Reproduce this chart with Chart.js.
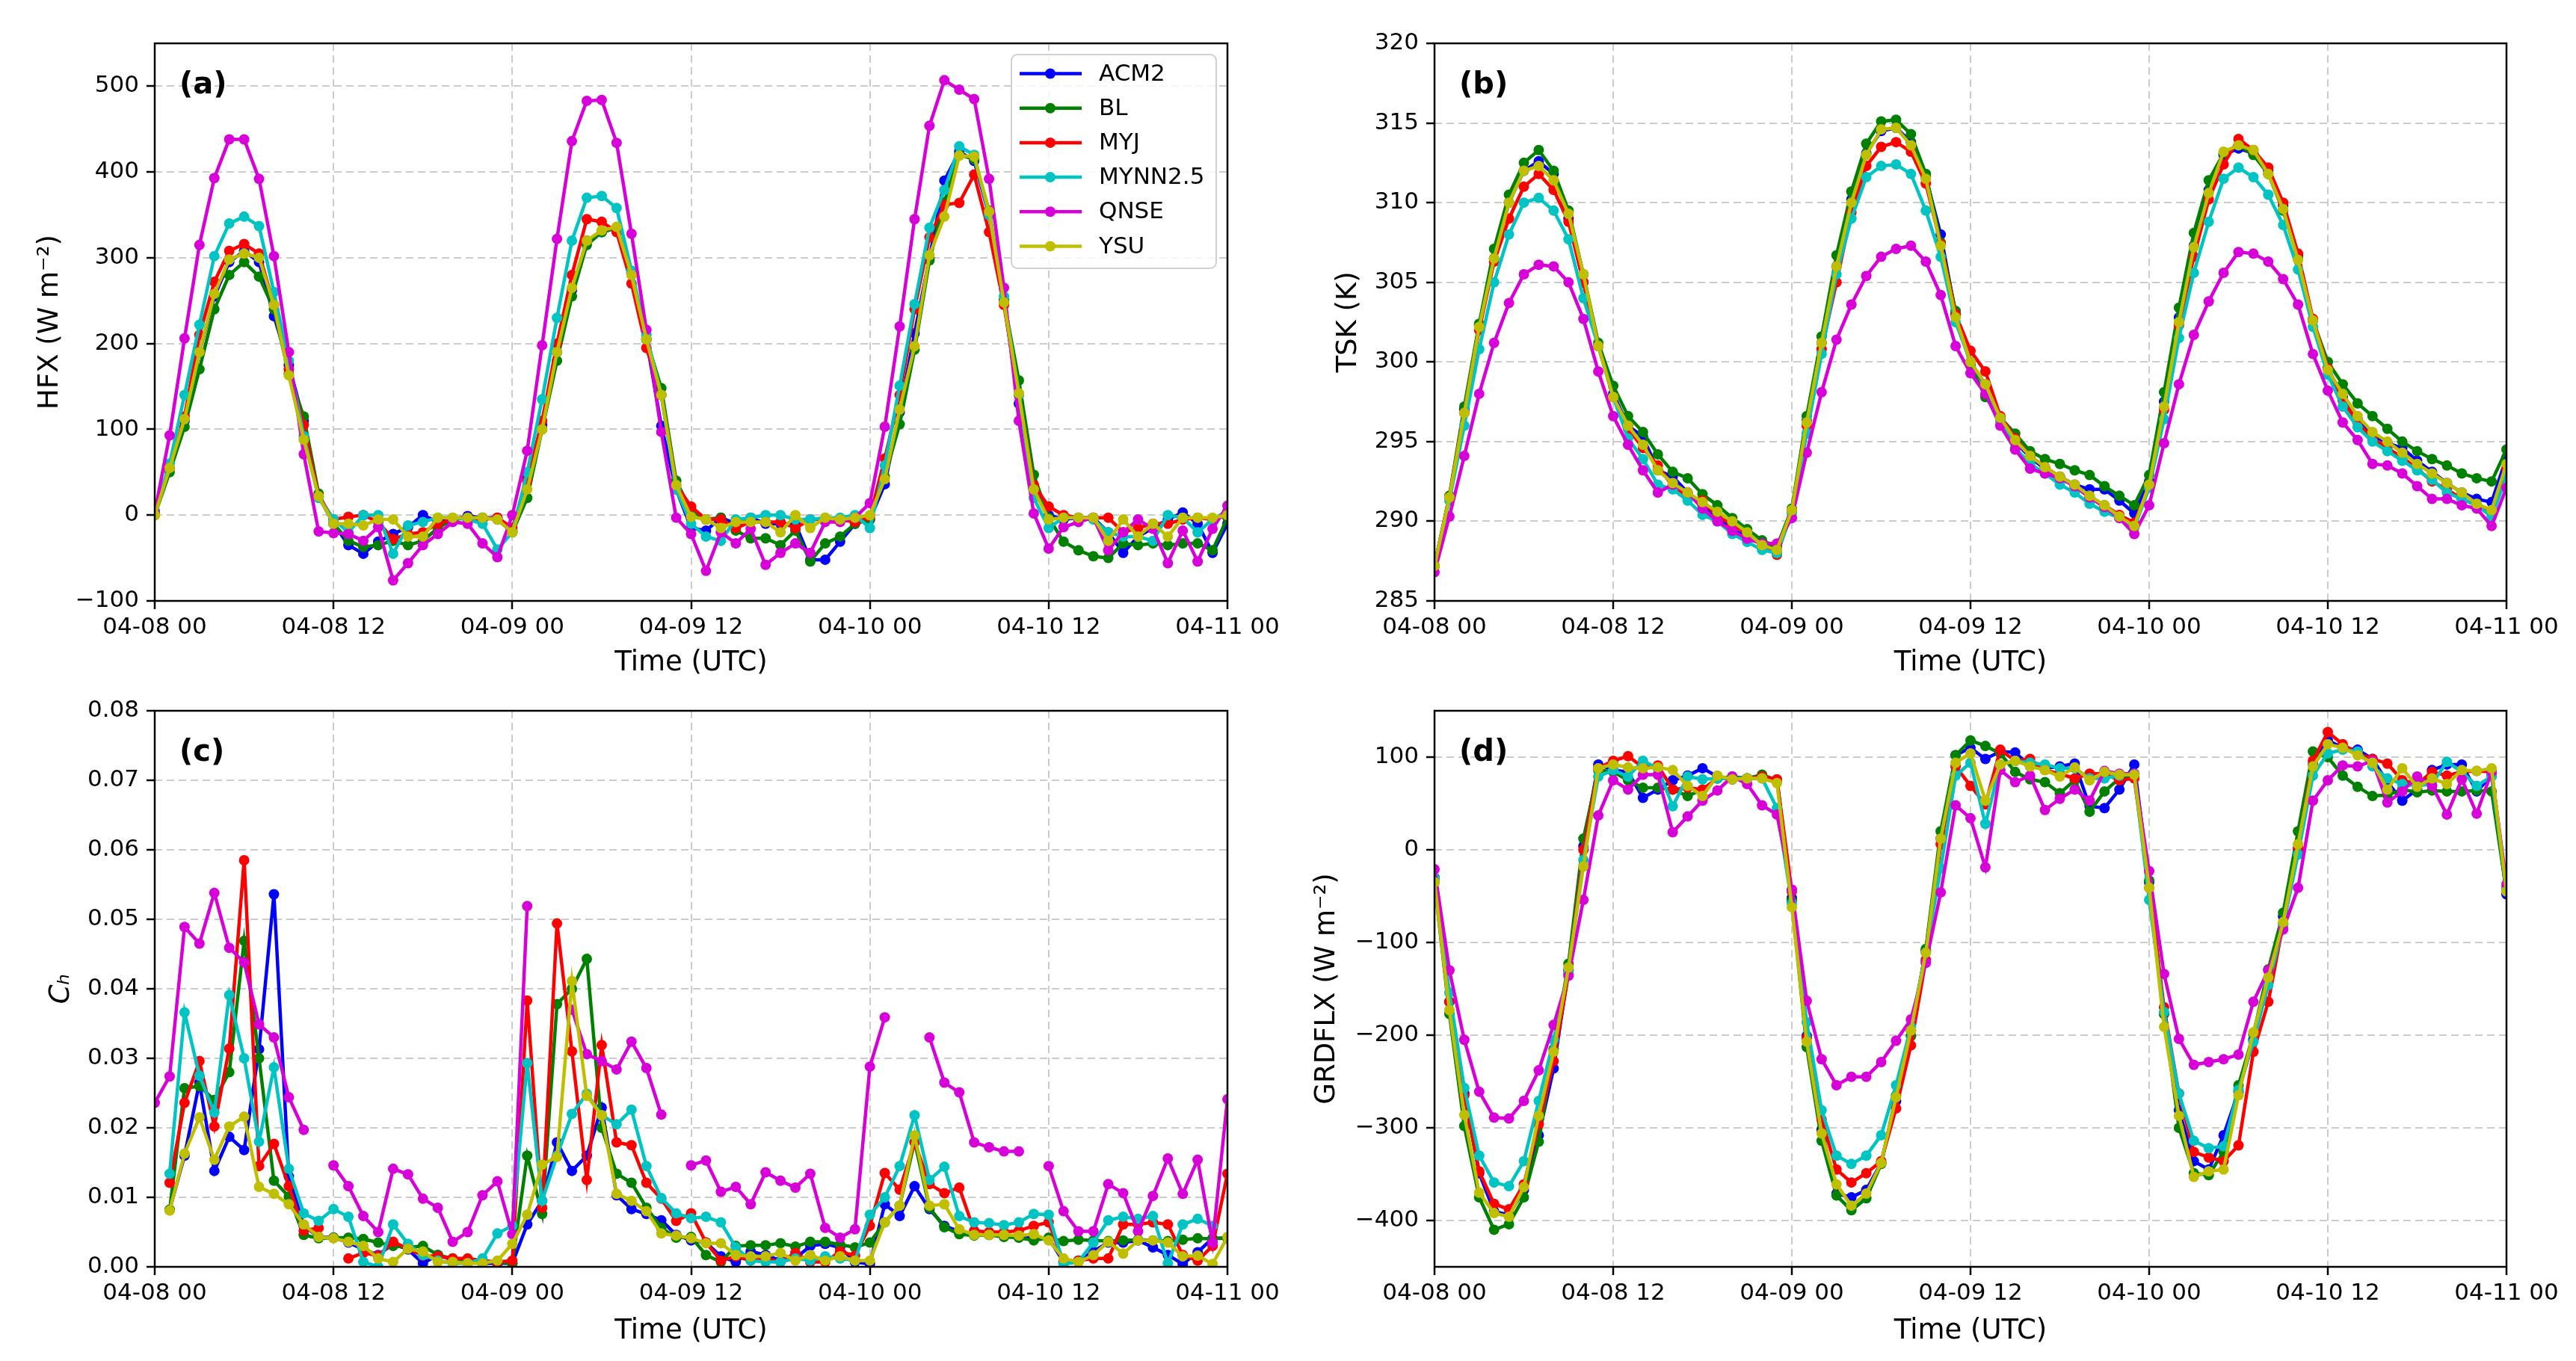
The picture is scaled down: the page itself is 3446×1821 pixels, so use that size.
<!DOCTYPE html>
<html>
<head>
<meta charset="utf-8">
<title>PBL schemes comparison</title>
<script src="https://cdn.jsdelivr.net/npm/chart.js@4.4.1/dist/chart.umd.min.js"></script>
<style>
  body { margin: 0; background: #fff; width: 3446px; height: 1821px; overflow: hidden; position: relative; }
  canvas { position: absolute; }
</style>
</head>
<body>
<canvas id="panelA" width="1723" height="910" style="left:0;top:0"></canvas>
<canvas id="panelB" width="1723" height="910" style="left:1723px;top:0"></canvas>
<canvas id="panelC" width="1723" height="911" style="left:0;top:910px"></canvas>
<canvas id="panelD" width="1723" height="911" style="left:1723px;top:910px"></canvas>
<script>
// hours since 04-08 00 UTC, one value per hour
const HOURS = Array.from({ length: 73 }, (_, i) => i);
const TIME_TICKS = [0, 12, 24, 36, 48, 60, 72];
const TIME_LABELS = ['04-08 00', '04-08 12', '04-09 00', '04-09 12', '04-10 00', '04-10 12', '04-11 00'];
const SCHEMES = ['ACM2', 'BL', 'MYJ', 'MYNN2.5', 'QNSE', 'YSU'];

const HFX_TICKS = [-100, 0, 100, 200, 300, 400, 500];
const TSK_TICKS = [285, 290, 295, 300, 305, 310, 315, 320];
const CH_TICKS = [0, 0.01, 0.02, 0.03, 0.04, 0.05, 0.06, 0.07, 0.08];
const GRD_TICKS = [-400, -300, -200, -100, 0, 100];

// (a) sensible heat flux HFX
const HFX_ACM2 = [3, 55, 110, 190, 255, 295, 308, 295, 232, 175, 110, 22, -10, -35, -45, -31, -22, -14, 0, -8, -5, -1, -3, -3, -18,
  45, 105, 190, 262, 320, 330, 335, 282, 205, 104, 30, -15, -18, -3, -10, -3, -10, -10, -10, -52, -52, -31, -10, -5,
  36, 120, 212, 300, 390, 424, 413, 350, 250, 130, 30, 0, -5, -3, -3, -20, -44, -25, -15, -5, 3, -10, -44, -10];
const HFX_BL = [0, 50, 103, 170, 240, 280, 295, 278, 240, 165, 115, 25, -10, -30, -37, -35, -30, -35, -30, -15, -5, -3, -3, -5, -20,
  20, 100, 180, 255, 315, 330, 335, 282, 205, 148, 40, 5, -5, -3, -18, -27, -27, -35, -18, -54, -33, -25, -10, -5,
  45, 106, 193, 297, 365, 420, 415, 355, 250, 157, 47, -3, -31, -41, -48, -50, -33, -35, -33, -35, -33, -33, -41, -3];
const HFX_MYJ = [3, 55, 115, 210, 272, 308, 316, 305, 245, 170, 105, 22, -5, -2, 0, -8, -28, -22, -20, -10, -5, -3, -5, -3, -15,
  40, 110, 200, 280, 345, 342, 330, 270, 195, 140, 35, 10, -5, -5, -15, -8, -8, -8, -15, -5, -5, -5, -8, -2,
  66, 140, 240, 324, 362, 364, 397, 330, 245, 140, 35, 10, 0, -3, -3, -3, -20, -15, -10, -10, -5, -3, -5, 0];
const HFX_MYNN = [5, 60, 140, 222, 302, 340, 348, 337, 260, 180, 92, 20, -5, -20, 0, 0, -45, -12, -8, -3, -3, -5, -10, -40, -20,
  50, 135, 230, 320, 370, 372, 358, 285, 210, 140, 30, -10, -25, -30, -5, -3, 0, 0, -5, -5, -3, -3, 0, -15,
  58, 151, 246, 335, 379, 430, 420, 350, 255, 140, 20, -15, -3, -3, -5, -20, -25, -25, -30, 0, -3, -20, -5, 5];
const HFX_QNSE = [3, 93, 206, 315, 393, 438, 438, 392, 302, 190, 71, -19, -21, -22, -30, -14, -76, -56, -35, -22, -8, -10, -33, -49, 0,
  75, 198, 322, 436, 483, 484, 434, 328, 216, 97, -3, -22, -65, -20, -33, -16, -58, -44, -33, -44, -8, -8, -3, 14,
  103, 220, 345, 454, 507, 496, 485, 392, 265, 110, 2, -39, -14, -8, -3, -41, -20, -5, -16, -56, -18, -54, -16, 11];
const HFX_YSU = [0, 55, 112, 190, 258, 298, 305, 300, 245, 163, 88, 22, -10, -10, -12, -5, -5, -25, -25, -3, -3, -3, -3, -5, -20,
  30, 100, 190, 265, 320, 332, 336, 280, 205, 140, 35, -2, -5, -15, -8, -8, -8, -20, 0, -15, -3, -5, -3, 0,
  42, 123, 197, 303, 348, 419, 418, 354, 248, 142, 30, -5, -3, -3, -3, -30, -5, -25, -10, -25, -3, -3, -3, 0];

// (b) skin temperature TSK
const TSK_ACM2 = [287.2, 291.5, 297, 302.3, 306.5, 310, 312, 312.6, 311.8, 309, 305, 301, 298, 296, 295.3, 293.2, 292.8, 291.8, 291, 290.3, 289.5, 289, 288.7, 288.2, 290.7,
  296.3, 301.2, 306, 310.2, 313.1, 314.5, 314.7, 313.8, 311.6, 308, 303, 300, 298.5, 296.5, 295, 294, 293.3, 292.8, 292.3, 292, 292, 291.3, 290.5, 292.5,
  297.5, 302.8, 307.3, 310.8, 313, 313.4, 313.1, 312, 309.8, 306.7, 302.6, 299.6, 297.8, 296.4, 295.4, 294.9, 294.6, 293.8, 293.1, 292.4, 291.8, 291.4, 291.2, 294];
const TSK_BL = [287.2, 291.6, 297.2, 302.4, 307.1, 310.5, 312.5, 313.3, 312, 309.5, 305.5, 301.2, 298.5, 296.6, 295.6, 294.2, 293.1, 292.7, 291.7, 291, 290.2, 289.5, 288.8, 288.4, 290.8,
  296.6, 301.6, 306.7, 310.7, 313.7, 315.1, 315.2, 314.3, 311.8, 307.5, 303.2, 299.8, 297.8, 296.5, 295.5, 294.4, 293.9, 293.6, 293.2, 292.9, 292.2, 291.6, 291, 292.9,
  298.1, 303.4, 308.1, 311.4, 313.1, 313.6, 313, 311.8, 309.5, 306.5, 302.6, 300, 298.6, 297.4, 296.6, 295.8, 295, 294.4, 293.9, 293.5, 293, 292.7, 292.5, 294.5];
const TSK_MYJ = [287.2, 291.5, 296.8, 302, 306.3, 309, 311, 311.8, 310.8, 308.8, 305, 301, 297.8, 295.8, 294.6, 293.5, 292.2, 291.6, 291.3, 290.3, 289.8, 289.2, 288.5, 287.9, 290.6,
  296, 300.8, 305, 309.4, 312.3, 313.5, 313.8, 313.2, 311.2, 307.4, 303, 300.7, 299.4, 296.6, 295.2, 294.1, 293.4, 292.8, 292.2, 291.5, 291, 290.4, 289.9, 292.2,
  297, 302.3, 306.6, 310.2, 312.4, 314, 313.3, 312.2, 310, 306.8, 302.7, 299.6, 297.6, 296.2, 295.2, 294.6, 294, 293.3, 292.5, 292, 291.4, 291, 290.6, 293.3];
const TSK_MYNN = [287.2, 291.3, 296, 300.8, 305, 308, 310, 310.3, 309.5, 307.7, 304, 301, 297.8, 295.2, 293.9, 292.3, 292, 291.3, 290.4, 290, 289.2, 288.7, 288.2, 288, 290.5,
  295.5, 300.5, 305.5, 309, 311.6, 312.3, 312.4, 311.8, 309.5, 306.6, 302.5, 300, 298.6, 296.3, 294.6, 293.6, 293, 292.3, 291.8, 291.1, 290.6, 290.2, 289.6, 292.1,
  296.4, 301.5, 305.6, 308.8, 311.5, 312.2, 311.6, 310.5, 308.6, 305.8, 302.2, 299.2, 297.2, 295.9, 295, 294.4, 293.8, 293.2, 292.6, 291.8, 291.4, 291, 290.3, 292.8];
const TSK_QNSE = [286.8, 290.3, 294.1, 298, 301.2, 303.7, 305.5, 306.1, 306, 305, 302.7, 299.4, 296.6, 294.8, 293.2, 291.8, 292.3, 291.8, 290.8, 290, 289.4, 288.9, 288.6, 288.6, 290.2,
  294.3, 298.1, 301.4, 303.6, 305.4, 306.6, 307.1, 307.3, 306.3, 304.2, 301, 299.3, 298, 296, 294.5, 293.3, 293, 292.7, 292.2, 291.5, 290.9, 290.2, 289.2, 291,
  294.9, 298.6, 301.7, 303.8, 305.6, 306.9, 306.8, 306.3, 305.2, 303.6, 300.5, 298.2, 296.2, 295.1, 293.6, 293.5, 293, 292.2, 291.4, 291.4, 291, 290.8, 289.7, 292.1];
const TSK_YSU = [287.2, 291.5, 296.8, 302.2, 306.5, 310, 312, 312.3, 311.4, 309.3, 305.5, 301, 297.8, 296, 294.8, 293.2, 292.4, 291.8, 291.2, 290.6, 290, 289.3, 288.5, 288.2, 290.7,
  296.2, 301.2, 306, 310, 313, 314.6, 314.7, 313.6, 311.5, 307.3, 302.8, 300, 298.6, 296.5, 295.1, 294.1, 293.4, 292.8, 292.3, 291.6, 291, 290.3, 289.7, 292.3,
  297.2, 302.5, 307.2, 310.6, 313.2, 313.6, 313.3, 311.8, 309.6, 306.4, 302.6, 299.5, 298, 296.6, 295.6, 295, 294.3, 293.6, 293, 292.4, 291.8, 291.1, 290.7, 293.6];

// (c) heat exchange coefficient Ch (null = no value)
const CH_ACM2 = [null, 0.0082, 0.016, 0.0265, 0.0138, 0.0187, 0.0168, 0.0313, 0.0536, 0.013, 0.0059, 0.0043, 0.0042, 0.0035, 0.0025, 0.0017, 0.0033, 0.0025, 0.0005, 0.0017, 0.001, 0.0009, 0.0005, 0.0005, 0.0005,
  0.0061, 0.0095, 0.0179, 0.0138, 0.016, 0.0229, 0.0103, 0.0083, 0.0076, 0.0067, 0.0046, 0.0038, 0.0035, 0.0015, 0.0007, 0.0022, 0.0017, 0.0009, 0.0012, 0.003, 0.0033, 0.0028, 0.0007, 0.0004,
  0.009, 0.0073, 0.0116, 0.0083, 0.0059, 0.0051, 0.0046, 0.0046, 0.0046, 0.0043, 0.0041, 0.0041, 0.0007, 0.0009, 0.0022, 0.0035, 0.0035, 0.0038, 0.0028, 0.0017, 0.0004, 0.0021, 0.0041, 0.0041];
const CH_BL = [null, 0.0082, 0.0257, 0.026, 0.024, 0.028, 0.0469, 0.03, 0.0124, 0.0101, 0.0046, 0.0041, 0.0042, 0.0042, 0.004, 0.0035, 0.003, 0.0028, 0.003, 0.0017, 0.0012, 0.0009, 0.0007, 0.0007, 0.0005,
  0.016, 0.0076, 0.0378, 0.04, 0.0443, 0.02, 0.0134, 0.0121, 0.0085, 0.0056, 0.0042, 0.0043, 0.0017, 0.0007, 0.003, 0.0031, 0.0031, 0.0034, 0.0029, 0.0036, 0.0036, 0.0032, 0.0028, 0.0035,
  0.0064, 0.0088, 0.018, 0.0085, 0.0057, 0.0047, 0.0045, 0.0046, 0.0043, 0.0042, 0.0038, 0.0042, 0.0037, 0.0039, 0.0038, 0.0037, 0.0038, 0.0039, 0.0038, 0.0037, 0.0039, 0.0041, 0.004, 0.0042];
const CH_MYJ = [null, 0.0121, 0.0236, 0.0296, 0.0202, 0.0314, 0.0585, 0.0145, 0.0177, 0.0116, 0.0052, 0.0056, null, 0.0012, 0.002, 0.0016, 0.0036, 0.0026, 0.0016, 0.0015, 0.0012, 0.0012, 0.0009, 0.0007, 0.0009,
  0.0383, 0.0085, 0.0494, 0.031, 0.0125, 0.0319, 0.0179, 0.0175, 0.0121, 0.0098, 0.0066, 0.0077, 0.0035, 0.0009, 0.0015, 0.0009, 0.0012, 0.0007, 0.002, 0.0007, 0.0007, 0.0022, 0.0016, 0.0059,
  0.0135, 0.0111, 0.0179, 0.0119, 0.0106, 0.0114, 0.0052, 0.005, 0.005, 0.0052, 0.0059, 0.0064, 0.0007, 0.0009, 0.0012, 0.0012, 0.0061, 0.0061, 0.0064, 0.0061, 0.0017, 0.0009, 0.003, 0.0134];
const CH_MYNN = [null, 0.0134, 0.0366, 0.0275, 0.0222, 0.0391, 0.03, 0.018, 0.0287, 0.0141, 0.0077, 0.0066, 0.0083, 0.0072, 0.0007, 0, 0.0061, 0.0033, 0.0017, 0.0009, 0.0005, 0.0005, 0.0012, 0.0048, 0.0059,
  0.0293, 0.0095, 0.016, 0.022, 0.0249, 0.0218, 0.0205, 0.0226, 0.0145, 0.0099, 0.0077, 0.007, 0.0072, 0.0064, 0.0028, 0.0009, 0.0007, 0.0007, 0.0012, 0.0009, 0.0015, 0.0012, 0.0009, 0.0075,
  0.01, 0.0145, 0.0218, 0.0125, 0.0144, 0.0073, 0.0064, 0.0063, 0.006, 0.0064, 0.0076, 0.0075, 0.0004, 0.0007, 0.0035, 0.0067, 0.0072, 0.0069, 0.0073, 0.0005, 0.0061, 0.0069, 0.0059, null];
const CH_QNSE = [0.0236, 0.0274, 0.0489, 0.0465, 0.0538, 0.0459, 0.0438, 0.0349, 0.033, 0.0244, 0.0197, null, 0.0146, 0.0116, 0.0073, 0.005, 0.0141, 0.0133, 0.0098, 0.0085, 0.0036, 0.005, 0.0103, 0.0123, 0.0047,
  0.0519, null, null, 0.037, 0.0306, 0.0296, 0.0284, 0.0324, 0.0286, 0.0219, null, 0.0146, 0.0153, 0.0108, 0.0115, 0.009, 0.0136, 0.0124, 0.0114, 0.0134, 0.0056, 0.0042, 0.0054, 0.0288,
  0.0359, null, null, 0.033, 0.0265, 0.0251, 0.0179, 0.0172, 0.0166, 0.0166, null, 0.0145, 0.008, 0.0051, 0.0051, 0.0119, 0.0106, 0.0051, 0.0102, 0.0156, 0.0105, 0.0154, 0.0035, 0.0241];
const CH_YSU = [null, 0.0081, 0.0163, 0.0215, 0.0154, 0.0202, 0.0216, 0.0115, 0.0105, 0.009, 0.0061, 0.0043, 0.0041, 0.0036, 0.003, 0.0012, 0.0007, 0.0026, 0.0022, 0.0007, 0.0007, 0.0005, 0.0005, 0.0009, 0.0033,
  0.0075, 0.0147, 0.0158, 0.0411, 0.0246, 0.0218, 0.0105, 0.0095, 0.008, 0.0048, 0.0045, 0.0041, 0.0034, 0.0034, 0.0017, 0.0015, 0.0015, 0.002, 0.0009, 0.0017, 0.0009, 0.0015, 0.0009, 0.0009,
  0.0064, 0.0088, 0.0189, 0.0088, 0.009, 0.0054, 0.0046, 0.0046, 0.0046, 0.0045, 0.0047, 0.0038, 0.0012, 0.0007, 0.0017, 0.0036, 0.0019, 0.0038, 0.0038, 0.0035, 0.0015, 0.0016, 0.0004, 0.0043];

// (d) ground heat flux GRDFLX
const GRD_ACM2 = [-30, -164, -263, -349, -390, -394, -367, -308, -236, -130, 4, 92, 86, 84, 56, 65, 75, 80, 88, 79, 76, 77, 79, 75, -52,
  -201, -302, -371, -375, -367, -338, -271, -195, -109, 12, 102, 110, 98, 106, 105, 90, 88, 90, 93, 47, 45, 65, 92, -35,
  -177, -281, -336, -345, -308, -261, -205, -144, -72, 0, 92, 118, 110, 108, 98, 73, 53, 65, 86, 92, 92, 63, 80, -48];
const GRD_BL = [-35, -177, -298, -375, -410, -404, -375, -315, -215, -123, 12, 86, 84, 75, 67, 67, 65, 58, 65, 77, 79, 77, 81, 75, -55,
  -213, -314, -373, -389, -376, -339, -265, -201, -107, 20, 102, 118, 112, 104, 84, 76, 73, 61, 75, 41, 63, 77, 80, -33,
  -177, -300, -349, -351, -326, -254, -199, -129, -68, 20, 106, 100, 80, 68, 58, 59, 65, 62, 64, 63, 63, 64, 63, -45];
const GRD_MYJ = [-30, -164, -265, -347, -382, -388, -361, -296, -228, -134, 0, 88, 96, 101, 89, 91, 65, 67, 65, 77, 77, 77, 79, 76, -45,
  -203, -291, -345, -359, -349, -336, -279, -211, -119, 6, 90, 69, 49, 108, 96, 98, 86, 82, 77, 82, 82, 75, 77, -41,
  -170, -263, -326, -332, -336, -319, -218, -164, -80, 2, 96, 127, 114, 104, 98, 93, 75, 71, 84, 80, 84, 85, 84, -41];
const GRD_MYNN = [-30, -154, -257, -330, -359, -363, -336, -271, -205, -132, -11, 79, 86, 79, 96, 88, 47, 79, 76, 77, 77, 77, 77, 45, -58,
  -186, -281, -330, -339, -330, -308, -254, -191, -111, -20, 80, 94, 28, 92, 96, 94, 92, 88, 88, 77, 77, 80, 82, -54,
  -175, -263, -314, -322, -320, -259, -207, -146, -82, -5, 80, 104, 108, 106, 90, 77, 71, 69, 71, 95, 84, 69, 79, -43];
const GRD_QNSE = [-21, -130, -205, -261, -289, -290, -271, -238, -189, -136, -54, 37, 75, 65, 81, 81, 19, 36, 53, 64, 79, 71, 48, 38, -43,
  -163, -226, -254, -245, -245, -229, -206, -183, -122, -46, 48, 34, -19, 86, 73, 80, 43, 55, 65, 53, 85, 82, 82, -23,
  -134, -204, -232, -229, -226, -221, -164, -130, -86, -41, 53, 75, 91, 90, 96, 51, 63, 79, 69, 38, 76, 39, 84, -37];
const GRD_YSU = [-35, -173, -286, -370, -392, -396, -364, -287, -218, -127, -18, 88, 92, 89, 88, 89, 86, 69, 58, 80, 76, 77, 77, 72, -62,
  -207, -306, -361, -384, -371, -338, -267, -195, -111, 12, 94, 104, 53, 92, 96, 90, 86, 79, 89, 75, 84, 81, 81, -41,
  -191, -287, -353, -347, -345, -265, -197, -138, -78, 6, 90, 114, 110, 102, 94, 65, 88, 68, 77, 71, 86, 85, 88, -45];

const COLORS = ['#0000ff', '#008000', '#ff0000', '#00c4c4', '#d800d8', '#bfbf00'];
const FONT = 'DejaVu Sans';
const minus = v => String(v).replace('-', '\u2212');

// black box round the axes, like matplotlib spines
const framePlugin = {
  id: 'frame',
  afterDraw(chart) {
    const { ctx, chartArea: a } = chart;
    ctx.save();
    ctx.strokeStyle = '#000';
    ctx.lineWidth = 2.5;
    ctx.strokeRect(a.left, a.top, a.right - a.left, a.bottom - a.top);
    ctx.restore();
  }
};

const panelLabelPlugin = {
  id: 'panelLabel',
  afterDraw(chart, args, opts) {
    const { ctx, chartArea: a } = chart;
    ctx.save();
    ctx.fillStyle = '#000';
    ctx.font = 'bold 40px "' + FONT + '"';
    ctx.textBaseline = 'middle';
    ctx.fillText(opts.text, a.left + 33, a.top + 57);
    ctx.restore();
  }
};

const boxLegendPlugin = {
  id: 'boxLegend',
  afterDraw(chart, args, opts) {
    if (!opts.show) return;
    const { ctx, chartArea: a } = chart;
    const w = 274, h = 286, r = 8;
    const x0 = a.right - 15 - w, y0 = a.top + 15;
    ctx.save();
    ctx.beginPath();
    ctx.moveTo(x0 + r, y0);
    ctx.arcTo(x0 + w, y0, x0 + w, y0 + h, r);
    ctx.arcTo(x0 + w, y0 + h, x0, y0 + h, r);
    ctx.arcTo(x0, y0 + h, x0, y0, r);
    ctx.arcTo(x0, y0, x0 + w, y0, r);
    ctx.closePath();
    ctx.fillStyle = 'rgba(255,255,255,0.8)';
    ctx.fill();
    ctx.strokeStyle = '#d0d0d0';
    ctx.lineWidth = 2;
    ctx.stroke();
    ctx.font = '31px "' + FONT + '"';
    ctx.textBaseline = 'middle';
    chart.data.datasets.forEach((ds, i) => {
      const y = y0 + 25.5 + i * 46.2;
      ctx.strokeStyle = ds.borderColor;
      ctx.lineWidth = 4.5;
      ctx.beginPath();
      ctx.moveTo(x0 + 11, y);
      ctx.lineTo(x0 + 94, y);
      ctx.stroke();
      ctx.fillStyle = ds.borderColor;
      ctx.beginPath();
      ctx.arc(x0 + 52, y, 7, 0, Math.PI * 2);
      ctx.fill();
      ctx.fillStyle = '#000';
      ctx.fillText(ds.label, x0 + 117, y + 1);
    });
    ctx.restore();
  }
};

function gridOpts() {
  return { color: '#cccccc', lineWidth: 2, tickLength: 11, tickColor: '#000', tickWidth: 2.5, tickBorderDash: [] };
}

function makePanel(id, series, p) {
  const datasets = series.map((vals, i) => ({
    label: SCHEMES[i],
    data: vals.map((v, j) => ({ x: HOURS[j], y: v })),
    borderColor: COLORS[i],
    backgroundColor: COLORS[i],
    pointBackgroundColor: COLORS[i],
    pointBorderWidth: 0,
    pointRadius: 7,
    borderWidth: 4.5,
    tension: 0,
    spanGaps: false,
    order: series.length - i
  }));

  return new Chart(document.getElementById(id), {
    type: 'line',
    data: { datasets },
    options: {
      responsive: false,
      animation: false,
      devicePixelRatio: 1,
      layout: { padding: { left: 0, right: p.padRight, top: p.padTop, bottom: 0 } },
      plugins: {
        legend: { display: false },
        tooltip: { enabled: false },
        panelLabel: { text: p.label },
        boxLegend: { show: !!p.legend }
      },
      scales: {
        x: {
          type: 'linear',
          min: 0,
          max: 72,
          afterBuildTicks: s => { s.ticks = TIME_TICKS.map(v => ({ value: v })); },
          afterFit: s => { s.height = p.xHeight; },
          ticks: {
            callback: v => TIME_LABELS[TIME_TICKS.indexOf(v)],
            font: { family: FONT, size: 31 },
            color: '#000',
            padding: 6,
            maxRotation: 0,
            autoSkip: false
          },
          grid: gridOpts(),
          border: { display: false, dash: [10, 6] },
          title: {
            display: true,
            text: 'Time (UTC)',
            color: '#000',
            font: { family: FONT, size: 37 },
            padding: { top: 0, bottom: p.xTitlePad }
          }
        },
        y: {
          min: p.min,
          max: p.max,
          afterBuildTicks: s => { s.ticks = p.ticks.map(v => ({ value: v })); },
          afterFit: s => { s.width = p.yWidth; },
          ticks: {
            callback: p.fmt,
            font: { family: FONT, size: 31 },
            color: '#000',
            padding: 10
          },
          grid: gridOpts(),
          border: { display: false, dash: [10, 6] },
          title: {
            display: true,
            text: p.yTitle,
            color: '#000',
            font: { family: FONT, size: 37, style: p.italic ? 'italic' : 'normal' },
            padding: { top: p.yTitlePad, bottom: 0 }
          }
        }
      }
    },
    plugins: [framePlugin, panelLabelPlugin, boxLegendPlugin]
  });
}

makePanel('panelA', [HFX_ACM2, HFX_BL, HFX_MYJ, HFX_MYNN, HFX_QNSE, HFX_YSU], {
  label: '(a)', legend: true, min: -100, max: 550, ticks: HFX_TICKS, fmt: minus,
  yTitle: 'HFX (W m\u207B\u00B2)', yWidth: 207, padRight: 81, padTop: 58, xHeight: 106, yTitlePad: 45, xTitlePad: 0
});
makePanel('panelB', [TSK_ACM2, TSK_BL, TSK_MYJ, TSK_MYNN, TSK_QNSE, TSK_YSU], {
  label: '(b)', min: 285, max: 320, ticks: TSK_TICKS, fmt: v => String(v),
  yTitle: 'TSK (K)', yWidth: 196, padRight: 93, padTop: 58, xHeight: 106, yTitlePad: 59, xTitlePad: 0
});
makePanel('panelC', [CH_ACM2, CH_BL, CH_MYJ, CH_MYNN, CH_QNSE, CH_YSU], {
  label: '(c)', min: 0, max: 0.08, ticks: CH_TICKS, fmt: v => v.toFixed(2),
  yTitle: 'C\u2095', italic: true, yWidth: 207, padRight: 81, padTop: 41, xHeight: 126, yTitlePad: 60, xTitlePad: 17
});
makePanel('panelD', [GRD_ACM2, GRD_BL, GRD_MYJ, GRD_MYNN, GRD_QNSE, GRD_YSU], {
  label: '(d)', min: -450, max: 150, ticks: GRD_TICKS, fmt: minus,
  yTitle: 'GRDFLX (W m\u207B\u00B2)', yWidth: 196, padRight: 93, padTop: 41, xHeight: 126, yTitlePad: 30, xTitlePad: 17
});
</script>
</body>
</html>
